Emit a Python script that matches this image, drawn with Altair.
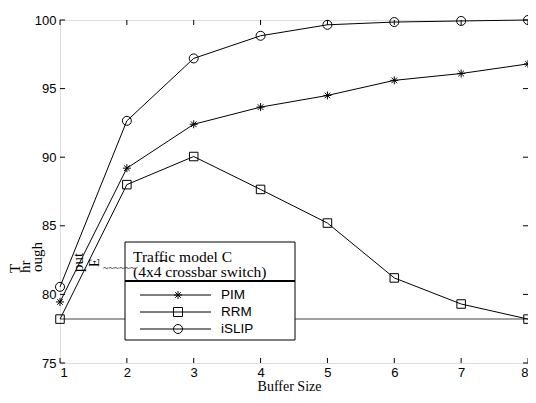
import altair as alt
import pandas as pd

# ---- data ----
buffer_size = [1, 2, 3, 4, 5, 6, 7, 8]
pim = [79.45, 89.2, 92.4, 93.65, 94.5, 95.6, 96.1, 96.8]
rrm = [78.2, 88.0, 90.05, 87.65, 85.2, 81.2, 79.3, 78.2]
islip = [80.55, 92.65, 97.2, 98.85, 99.65, 99.85, 99.93, 100.0]
series = ["PIM", "RRM", "iSLIP"]
baseline_value = [78.2]
x_ticks = [1, 2, 3, 4, 5, 6, 7, 8]
y_ticks = [75, 80, 85, 90, 95, 100]
legend_title = ["Traffic model C", "(4x4 crossbar switch)"]

W, H = 468, 343
SERIF = "Liberation Serif"
SANS = "Liberation Sans"
STAR = "M-1,0L1,0M0,-1L0,1M-0.7,-0.7L0.7,0.7M-0.7,0.7L0.7,-0.7"
shapes = {"PIM": STAR, "RRM": "square", "iSLIP": "circle"}
sizes = {"PIM": 64, "RRM": 81, "iSLIP": 81}

rows = []
for name, vals in zip(series, [pim, rrm, islip]):
    for b, v in zip(buffer_size, vals):
        rows.append({"buffer": b, "value": v, "series": name})
df = pd.DataFrame(rows)

x_scale = alt.Scale(domain=[1, 8], nice=False, zero=False)
y_scale = alt.Scale(domain=[75, 100], nice=False, zero=False)
x_axis = alt.Axis(values=x_ticks, tickSize=0, labelPadding=3, domain=False, grid=False,
                  labelFont=SANS, labelFontSize=13, labelColor="black",
                  title="Buffer Size", titleFont=SERIF, titleFontSize=14,
                  titleFontWeight="normal", titleColor="black",
                  titleX=229, titleY=27.5, titleBaseline="alphabetic")
y_axis = alt.Axis(values=y_ticks, tickSize=0, labelPadding=4, domain=False, grid=False,
                  labelFont=SANS, labelFontSize=13, labelColor="black", title=None)

X = alt.X("buffer:Q", scale=x_scale, axis=x_axis)
Y = alt.Y("value:Q", scale=y_scale, axis=y_axis)

base_rule = alt.Chart(pd.DataFrame({"value": baseline_value})).mark_rule(
    color="#808080", strokeWidth=1.5).encode(y=Y)

lines = alt.Chart(df).mark_line(color="black", strokeWidth=1).encode(
    x=X, y=Y, detail="series:N")

points = alt.Chart(df).mark_point(color="black", filled=False, strokeWidth=1, opacity=1).encode(
    x=X, y=Y,
    shape=alt.Shape("series:N", scale=alt.Scale(domain=series, range=[shapes[s] for s in series]), legend=None),
    size=alt.Size("series:N", scale=alt.Scale(domain=series, range=[sizes[s] for s in series]), legend=None),
)

# inward MATLAB-style ticks
xt = pd.DataFrame({"buffer": x_ticks})
yt = pd.DataFrame({"value": y_ticks})
tick_b = alt.Chart(xt).mark_rule(color="black").encode(x=X, y=alt.value(H), y2=alt.value(H - 5))
tick_t = alt.Chart(xt).mark_rule(color="black").encode(x=X, y=alt.value(0), y2=alt.value(5))
tick_l = alt.Chart(yt).mark_rule(color="black").encode(y=Y, x=alt.value(0), x2=alt.value(5))
tick_r = alt.Chart(yt).mark_rule(color="black").encode(y=Y, x=alt.value(W), x2=alt.value(W - 5))

one = pd.DataFrame({"k": [0]})
# legend box
box = alt.Chart(one).mark_rect(fill="white", stroke="black", strokeWidth=1).encode(
    x=alt.value(65), x2=alt.value(235), y=alt.value(222), y2=alt.value(320))
sep = alt.Chart(one).mark_rule(color="black", strokeWidth=2).encode(
    x=alt.value(65), x2=alt.value(235), y=alt.value(261))
legend_layers = [box, sep]
for i, t in enumerate(legend_title):
    legend_layers.append(alt.Chart(one).mark_text(
        align="left", baseline="middle", font=SERIF, fontSize=15.5, color="black").encode(
        x=alt.value(73), y=alt.value(237 + 15 * i), text=alt.value(t)))
for i, s in enumerate(series):
    yy = 275 + 17 * i
    legend_layers.append(alt.Chart(one).mark_rule(color="black", strokeWidth=1).encode(
        x=alt.value(80), x2=alt.value(151), y=alt.value(yy)))
    legend_layers.append(alt.Chart(one).mark_point(color="black", filled=False, strokeWidth=1, opacity=1).encode(
        x=alt.value(118), y=alt.value(yy), shape=alt.value(shapes[s]), size=alt.value(sizes[s])))
    legend_layers.append(alt.Chart(one).mark_text(
        align="left", baseline="middle", font=SANS, fontSize=13.5, color="black").encode(
        x=alt.value(161), y=alt.value(yy), text=alt.value(s)))

# garbled y-axis title pieces as in the reference
garbled = []
for txt, gx, gy, ang, fs in [("T", -45, 253, 270, 15), ("hr", -35, 253, 270, 15),
                             ("ough", -23, 252, 270, 15), ("put", 18, 252, 270, 15),
                             ("E", 35, 247, 270, 14)]:
    garbled.append(alt.Chart(one).mark_text(
        align="left", baseline="middle", font=SERIF, fontSize=fs, color="black", angle=ang).encode(
        x=alt.value(gx), y=alt.value(gy), text=alt.value(txt)))
garbled.append(alt.Chart(one).mark_text(
    align="left", baseline="middle", font=SERIF, fontSize=10, color="black").encode(
    x=alt.value(43), y=alt.value(248), text=alt.value("~~~~~~")))
garbled.append(alt.Chart(one).mark_text(
    align="left", baseline="middle", font=SERIF, fontSize=11, color="black").encode(
    x=alt.value(98), y=alt.value(241), text=alt.value("∽")))

chart = alt.layer(
    base_rule, lines, points, *legend_layers, *garbled, tick_b, tick_t, tick_l, tick_r
).properties(
    width=W, height=H,
    autosize=alt.AutoSizeParams(type="none"),
    padding={"left": 52, "top": 12, "right": 0, "bottom": 32},
).configure_view(stroke="black", strokeWidth=1).configure(background="white")

chart.save("out.html", embed_options={"renderer": "svg", "actions": False})
